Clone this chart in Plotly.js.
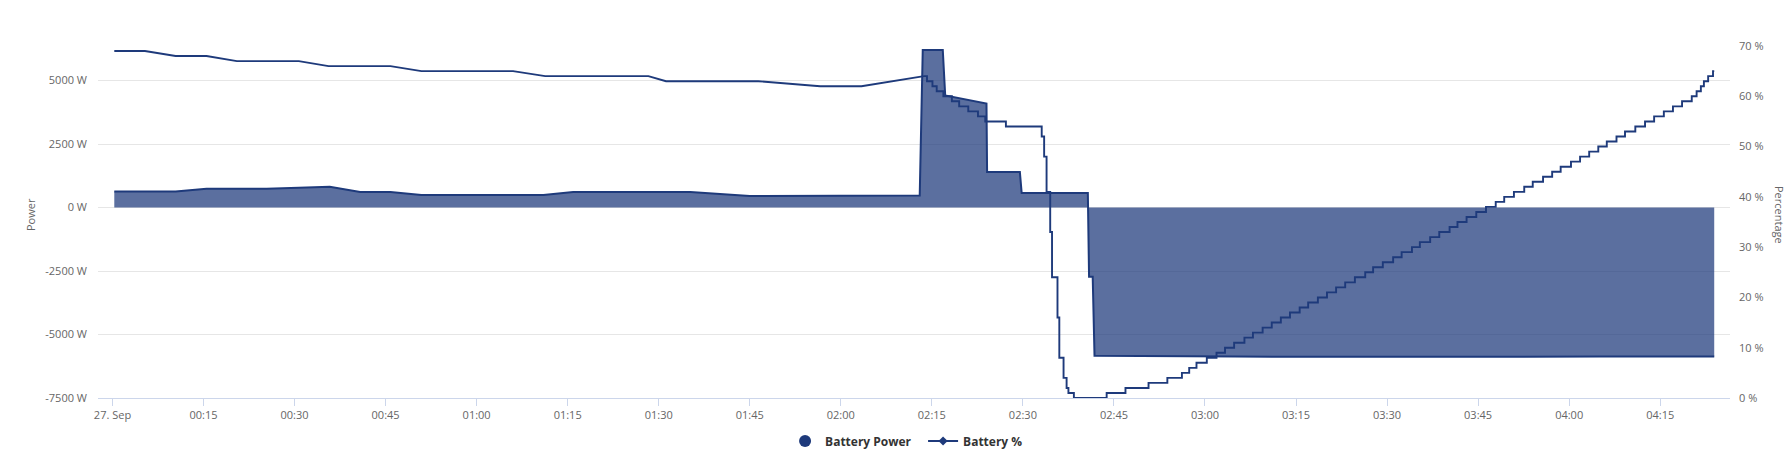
<!DOCTYPE html>
<html><head><meta charset="utf-8">
<script src="https://cdn.plot.ly/plotly-3.0.1.min.js"></script>
<style>html,body{margin:0;padding:0;background:#fff;}#chart{width:1791px;height:468px;}</style>
</head><body><div id="chart"></div>
<script>
const DAY = "2023-09-27 ";

// Battery Power (W)
const powerTimes = ["00:00:18","00:10:24","00:15:30","00:25:24","00:30:42","00:35:48","00:40:48","00:45:48","00:50:54",
  "01:11:00","01:15:54","01:35:12","01:45:00","02:00:00","02:13:00","02:13:30","02:16:48","02:17:12","02:24:00","02:24:06",
  "02:29:30","02:29:48","02:40:42","02:40:54","02:41:30","02:41:48","02:50:00","03:05:00","03:20:00","03:35:00",
  "03:50:00","04:05:00","04:23:54"];
const powerValues = [635,635,740,740,779,818,611,611,495,
  495,611,611,456,460,470,6200,6200,4410,4090,1400,
  1400,570,570,-2730,-2730,-5840,-5860,-5870,-5880,-5870,
  -5860,-5870,-5870];

// Battery % : sparse samples (linear segments)
const pctSlopeTimes = ["00:00:18","00:05:21","00:10:24","00:15:30","00:20:30","00:30:42","00:35:36","00:45:48","00:50:54",
  "01:06:00","01:11:18","01:28:18","01:31:12","01:46:24","01:56:36","02:03:24","02:13:42"];
const pctSlopeValues = [69,69,68,68,67,67,66,66,65,65,64,64,63,63,62,62,64];

// Battery % : dense samples (stepped)
const pctStepTimes = ["02:13:42","02:14:12","02:15:06","02:15:48","02:16:54","02:18:18","02:19:30","02:21:00","02:22:36","02:23:48",
  "02:27:12","02:32:42","02:33:06","02:33:30","02:33:54","02:34:30","02:34:48","02:35:42","02:36:00","02:36:42",
  "02:37:12","02:37:30","02:38:24","02:43:48","02:46:54","02:50:42","02:53:48","02:56:12","02:57:24","02:58:36",
  "03:00:18","03:01:54","03:03:18","03:04:48","03:06:30","03:07:54","03:09:30","03:11:00","03:12:30","03:14:00",
  "03:15:36","03:17:00","03:18:36","03:20:06","03:21:36","03:23:06","03:24:42","03:26:24","03:27:42","03:29:18",
  "03:31:00","03:32:24","03:34:06","03:35:24","03:37:06","03:38:36","03:40:18","03:41:36","03:43:06","03:44:42",
  "03:46:18","03:47:54","03:49:18","03:50:54","03:52:36","03:54:00","03:55:42","03:57:12","03:58:36","04:00:18",
  "04:01:48","04:03:18","04:04:48","04:06:12","04:07:48","04:09:12","04:10:54","04:12:30","04:14:00","04:15:36",
  "04:17:06","04:18:36","04:20:12","04:21:00","04:21:42","04:22:12","04:22:54","04:23:42","04:23:54"];
const pctStepValues = [64,63,62,61,60,59,58,57,56,55,
  54,54,52,48,41,33,24,16,8,4,
  2,1,0,1,2,3,4,5,6,7,
  8,9,10,11,12,13,14,15,16,17,
  18,19,20,21,22,23,24,25,26,27,
  28,29,30,31,32,33,34,35,36,37,
  38,39,40,41,42,43,44,45,46,47,
  48,49,50,51,52,53,54,55,56,57,
  58,59,60,61,62,63,64,65,65];

const xTickTimes = ["00:00","00:15","00:30","00:45","01:00","01:15","01:30","01:45","02:00","02:15","02:30","02:45",
  "03:00","03:15","03:30","03:45","04:00","04:15"];
const xTickLabels = ["27. Sep","00:15","00:30","00:45","01:00","01:15","01:30","01:45","02:00","02:15","02:30","02:45",
  "03:00","03:15","03:30","03:45","04:00","04:15"];
const powerTickValues = [-7500,-5000,-2500,0,2500,5000];
const powerTickLabels = ["-7500 W","-5000 W","-2500 W","0 W","2500 W","5000 W"];
const pctTickValues = [0,10,20,30,40,50,60,70];
const pctTickLabels = ["0 %","10 %","20 %","30 %","40 %","50 %","60 %","70 %"];

const NAVY = "#1e3a7b";
const stamp = t => DAY + t;

const traces = [
  {x: powerTimes.map(stamp), y: powerValues, type: "scatter", mode: "lines", fill: "tozeroy",
   fillcolor: "rgba(30,58,123,0.73)", line: {color: NAVY, width: 2}, yaxis: "y", showlegend: false, hoverinfo: "skip"},
  {x: pctSlopeTimes.map(stamp), y: pctSlopeValues, type: "scatter", mode: "lines",
   line: {color: NAVY, width: 1.9}, yaxis: "y2", showlegend: false, hoverinfo: "skip"},
  {x: pctStepTimes.map(stamp), y: pctStepValues, type: "scatter", mode: "lines",
   line: {color: NAVY, width: 1.9, shape: "hv"}, yaxis: "y2", showlegend: false, hoverinfo: "skip"},
  {x: [null], y: [null], type: "scatter", mode: "markers", name: "Battery Power",
   marker: {symbol: "circle", size: 12, color: NAVY}, yaxis: "y"},
  {x: [null], y: [null], type: "scatter", mode: "lines+markers", name: "Battery %",
   line: {color: NAVY, width: 2}, marker: {symbol: "diamond", size: 7, color: NAVY}, yaxis: "y2"}
];

const layout = {
  width: 1791, height: 468,
  margin: {l: 98, r: 61, t: 46, b: 65},
  paper_bgcolor: "#ffffff", plot_bgcolor: "#ffffff",
  font: {family: "Open Sans, sans-serif", size: 11, color: "#666666"},
  showlegend: true,
  legend: {orientation: "h", x: 0.421, xanchor: "left", y: -0.122, yanchor: "middle",
    font: {family: "Open Sans, sans-serif", size: 12, color: "#333333", weight: "bold"},
    itemwidth: 30, entrywidth: 93, entrywidthmode: "pixels", tracegroupgap: 0},
  xaxis: {type: "date", range: ["2023-09-26 23:57:37", DAY + "04:26:30"],
    tickvals: xTickTimes.map(stamp), ticktext: xTickLabels, showgrid: false, zeroline: false,
    showline: true, linecolor: "#ccd6eb", linewidth: 1, ticks: "outside", ticklen: 7, tickcolor: "#ccd6eb",
    tickfont: {size: 11, color: "#666666"}, fixedrange: true},
  yaxis: {range: [-7500, 6359], tickvals: powerTickValues, ticktext: powerTickLabels,
    showgrid: true, gridcolor: "#e6e6e6", gridwidth: 1, zeroline: false, showline: false, ticks: "",
    ticklabelstandoff: 10, tickfont: {size: 11, color: "#666666"}, fixedrange: true},
  yaxis2: {range: [0, 70], overlaying: "y", side: "right", tickvals: pctTickValues, ticktext: pctTickLabels,
    showgrid: false, zeroline: false, showline: false, ticks: "", ticklabelstandoff: 8,
    tickfont: {size: 11, color: "#666666"}, fixedrange: true},
  annotations: [
    {text: "Power", xref: "paper", yref: "paper", x: -0.041, y: 0.52, showarrow: false, textangle: -90,
     xanchor: "center", yanchor: "middle", font: {size: 11, color: "#666666"}},
    {text: "Percentage", xref: "paper", yref: "paper", x: 1.030, y: 0.52, showarrow: false, textangle: 90,
     xanchor: "center", yanchor: "middle", font: {size: 11, color: "#666666"}}
  ]
};

Plotly.newPlot("chart", traces, layout, {displayModeBar: false, staticPlot: true});
</script>
</body></html>
